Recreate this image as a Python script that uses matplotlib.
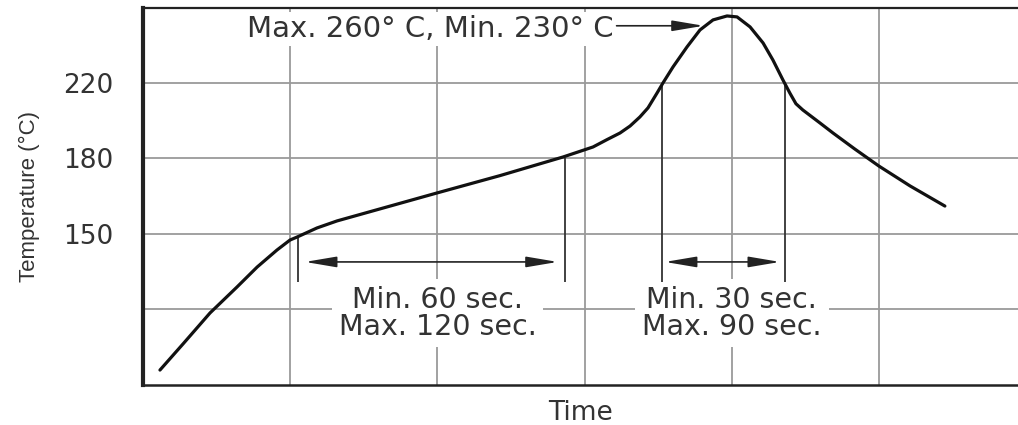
import numpy as np
import matplotlib.pyplot as plt

# reflow profile (time in s, temperature in degC)
time = [6.9, 16.3, 27.3, 38.3, 46.5, 54.6, 59.9, 62.8, 70.9, 79.1, 119.8, 145.5,
        171.2, 183.4, 189.1, 194.4, 198.5, 202.5, 205.8, 209.5, 211.9, 216.0,
        221.7, 227.0, 232.3, 238.0, 242.1, 247.4, 252.7, 256.7, 260.8, 263.6,
        266.1, 268.9, 275.9, 281.2, 290.1, 299.9, 312.6, 326.8]
temp = [59.9, 77.2, 97.7, 114.9, 128.1, 139.4, 146.0, 148.0, 152.4, 155.2, 166.3, 173.2,
        180.8, 186.1, 190.0, 193.5, 197.2, 202.0, 206.8, 214.7, 220.0, 228.5,
        239.1, 248.1, 253.4, 255.5, 255.0, 249.7, 241.2, 232.2, 221.6, 214.7,
        209.0, 205.7, 198.8, 193.5, 185.0, 177.0, 169.1, 161.1]

# y axis of the original is not linear: evenly spaced grid lines
temp_knots = [0, 50, 100, 150, 180, 220, 260, 300]
pos_knots = [-1, 0, 1, 2, 3, 4, 5, 6]
ytick_vals = [100, 150, 180, 220]
ytick_labels = ['', '150', '180', '220']
xtick_vals = [60, 120, 180, 240, 300]

soak = [63, 172]            # start / end of the soak zone
soak_top = [148.5, 180.5]
reflow = [211.5, 261.5]     # time above 220
reflow_top = [220, 220]
marker_bottom = 118
arrow_temp = 131.5

soak_text = 'Min. 60 sec.\nMax. 120 sec.'
reflow_text = 'Min. 30 sec.\nMax. 90 sec.'
peak_text = 'Max. 260° C, Min. 230° C'

txt_col = '#333333'

fig = plt.figure(figsize=(10.18, 4.25), dpi=100)
ax = fig.add_axes([0.1405, 0.0941, 0.8595, 0.887])


def fwd(t):
    return np.interp(t, temp_knots, pos_knots)


def inv(p):
    return np.interp(p, pos_knots, temp_knots)


ax.set_yscale('function', functions=(fwd, inv))
ax.set_xlim(0, 356.6)
ax.set_ylim(50, 259.7)

ax.set_xticks(xtick_vals)
ax.set_xticklabels([])
ax.set_yticks(ytick_vals)
ax.set_yticklabels(ytick_labels)
ax.yaxis.set_minor_locator(plt.NullLocator())
ax.tick_params(length=0, labelsize=19, labelcolor=txt_col)
ax.tick_params(axis='y', pad=21)
ax.tick_params(axis='x', pad=0)
ax.grid(True, color='#9a9a9a', lw=1.3)
ax.set_axisbelow(True)

ax.spines['right'].set_visible(False)
ax.spines['left'].set_linewidth(3)
ax.spines['top'].set_linewidth(1.6)
ax.spines['bottom'].set_linewidth(1.8)
for s in ax.spines.values():
    s.set_color('#222222')

ax.plot(time, temp, color='#111111', lw=2.3, zorder=5,
        solid_joinstyle='round', solid_capstyle='round')

ax.vlines(soak, [marker_bottom] * 2, soak_top, color='#333333', lw=1.3, zorder=4)
ax.vlines(reflow, [marker_bottom] * 2, reflow_top, color='#333333', lw=1.3, zorder=4)

arr = dict(arrowstyle='<|-|>,head_length=1.6,head_width=0.27', color='#222222',
           lw=1.2, shrinkA=0, shrinkB=0, mutation_scale=12)
ax.annotate('', xy=(169, arrow_temp), xytext=(66, arrow_temp), arrowprops=arr, zorder=4)
ax.annotate('', xy=(259.6, arrow_temp), xytext=(212.7, arrow_temp), arrowprops=arr, zorder=4)

box = dict(facecolor='white', edgecolor='none', pad=5)
ax.text(120, 97.4, soak_text, ha='center', va='center', fontsize=20.5,
        linespacing=0.93, color=txt_col, bbox=box, zorder=3)
ax.text(240, 97.4, reflow_text, ha='center', va='center', fontsize=20.5,
        linespacing=0.93, color=txt_col, bbox=box, zorder=3)

ax.text(42.4, 248.5, peak_text, ha='left', va='center', fontsize=21,
        color=txt_col, bbox=dict(facecolor='white', edgecolor='none', pad=2), zorder=3)
ax.annotate('', xy=(228.5, 250.3), xytext=(193.0, 250.3),
            arrowprops=dict(arrowstyle='-|>,head_length=1.6,head_width=0.27',
                            color='#222222', lw=1.2, shrinkA=0, shrinkB=0,
                            mutation_scale=12), zorder=4)

ax.set_xlabel('Time', fontsize=19, color=txt_col, labelpad=11)
ax.set_ylabel('Temperature (°C)', fontsize=16, color=txt_col, labelpad=17,
              family=['Liberation Sans Narrow', 'Liberation Sans', 'DejaVu Sans'])

fig.savefig('out.png', dpi=100)
